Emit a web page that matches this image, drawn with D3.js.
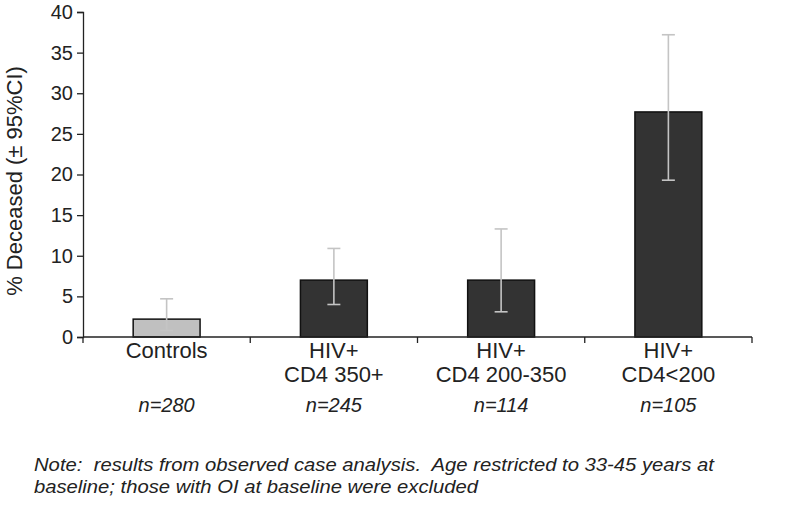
<!DOCTYPE html>
<html>
<head>
<meta charset="utf-8">
<script src="https://cdn.jsdelivr.net/npm/d3@7"></script>
<style>
  body { margin: 0; background: #fff; }
  text { font-family: "Liberation Sans", Arial, sans-serif; fill: #222; }
</style>
</head>
<body>
<div id="chart"></div>
<script>
// data
var groups = ["Controls", "HIV+ CD4 350+", "HIV+ CD4 200-350", "HIV+ CD4<200"];
var line1 = ["Controls", "HIV+", "HIV+", "HIV+"];
var line2 = ["", "CD4 350+", "CD4 200-350", "CD4<200"];
var counts = ["n=280", "n=245", "n=114", "n=105"];
var deceased = [2.2, 7.0, 7.0, 27.7];
var ciLow = [0.8, 4.0, 3.1, 19.3];
var ciHigh = [4.7, 10.9, 13.3, 37.2];
var yTicks = [0, 5, 10, 15, 20, 25, 30, 35, 40];

var width = 800, height = 509;
var margin = {top: 12, left: 83, right: 48, bottom: 172};

var svg = d3.select("#chart")
  .append("svg")
    .attr("width", width)
    .attr("height", height);

var x = d3.scaleBand()
  .domain(groups)
  .range([margin.left, width - margin.right])
  .padding(0);

var y = d3.scaleLinear()
  .domain([0, 40])
  .range([height - margin.bottom, margin.top]);

var barW = x.bandwidth() * 0.4;

// bars
svg.selectAll("rect.bar")
  .data(groups)
  .enter().append("rect")
    .attr("x", function(d) { return x(d) + (x.bandwidth() - barW) / 2; })
    .attr("y", function(d, i) { return y(deceased[i]); })
    .attr("width", barW)
    .attr("height", function(d, i) { return y(0) - y(deceased[i]); })
    .attr("fill", function(d, i) { return i == 0 ? "#c0c0c0" : "#333333"; })
    .attr("stroke", "#111")
    .attr("stroke-width", 1.5);

// error bars
var err = svg.selectAll("g.err")
  .data(groups)
  .enter().append("g")
    .attr("stroke", "#c4c4c4")
    .attr("stroke-width", 1.6);
err.append("line")
  .attr("x1", function(d) { return x(d) + x.bandwidth() / 2; })
  .attr("x2", function(d) { return x(d) + x.bandwidth() / 2; })
  .attr("y1", function(d, i) { return y(ciLow[i]); })
  .attr("y2", function(d, i) { return y(ciHigh[i]); });
[ciLow, ciHigh].forEach(function(arr) {
  err.append("line")
    .attr("x1", function(d) { return x(d) + x.bandwidth() / 2 - 6.5; })
    .attr("x2", function(d) { return x(d) + x.bandwidth() / 2 + 6.5; })
    .attr("y1", function(d, i) { return y(arr[i]); })
    .attr("y2", function(d, i) { return y(arr[i]); });
});

// y axis
var yAxis = svg.append("g")
  .attr("transform", "translate(" + margin.left + ",0)")
  .call(d3.axisLeft(y).tickValues(yTicks).tickSize(6).tickPadding(4));
yAxis.select(".domain").attr("stroke", "#222").attr("stroke-width", 1.3);
yAxis.selectAll(".tick line").attr("stroke", "#222").attr("stroke-width", 1.3);
yAxis.selectAll(".tick text")
  .style("font-family", "'Liberation Sans', Arial, sans-serif")
  .style("font-size", "20px")
  .attr("fill", "#222");

// x axis with ticks between categories
var xAxis = svg.append("g")
  .attr("transform", "translate(0," + y(0) + ")");
xAxis.append("line")
  .attr("x1", margin.left).attr("x2", width - margin.right)
  .attr("stroke", "#222").attr("stroke-width", 1.3);
var bounds = groups.map(function(d) { return x(d); }).concat([width - margin.right]);
xAxis.selectAll("line.tk")
  .data(bounds)
  .enter().append("line")
    .attr("x1", function(d) { return d; }).attr("x2", function(d) { return d; })
    .attr("y1", 0).attr("y2", 6)
    .attr("stroke", "#222").attr("stroke-width", 1.3);

// category labels
var lab = svg.selectAll("text.cat")
  .data(groups)
  .enter().append("text")
    .attr("text-anchor", "middle")
    .style("font-size", "22px")
    .attr("x", function(d) { return x(d) + x.bandwidth() / 2; })
    .attr("y", y(0) + 21);
lab.append("tspan")
  .attr("x", function(d) { return x(d) + x.bandwidth() / 2; })
  .text(function(d, i) { return line1[i]; });
lab.append("tspan")
  .attr("x", function(d) { return x(d) + x.bandwidth() / 2; })
  .attr("dy", 24)
  .text(function(d, i) { return line2[i]; });

// n counts
svg.selectAll("text.n")
  .data(groups)
  .enter().append("text")
    .attr("text-anchor", "middle")
    .style("font-size", "20px")
    .style("font-style", "italic")
    .attr("x", function(d) { return x(d) + x.bandwidth() / 2; })
    .attr("y", y(0) + 75)
    .text(function(d, i) { return counts[i]; });

// y axis title
svg.append("text")
  .attr("transform", "translate(22,181) rotate(-90)")
  .attr("text-anchor", "middle")
  .style("font-size", "22px")
  .text("% Deceased (± 95%CI)");

// note
var note = svg.append("text")
  .style("font-size", "19px")
  .style("font-style", "italic")
  .style("white-space", "pre")
  .attr("y", 471);
note.append("tspan").attr("x", 34)
  .attr("textLength", 680).attr("lengthAdjust", "spacingAndGlyphs")
  .text("Note:  results from observed case analysis.  Age restricted to 33-45 years at");
note.append("tspan").attr("x", 34).attr("dy", 22)
  .attr("textLength", 444).attr("lengthAdjust", "spacingAndGlyphs")
  .text("baseline; those with OI at baseline were excluded");
</script>
</body>
</html>
